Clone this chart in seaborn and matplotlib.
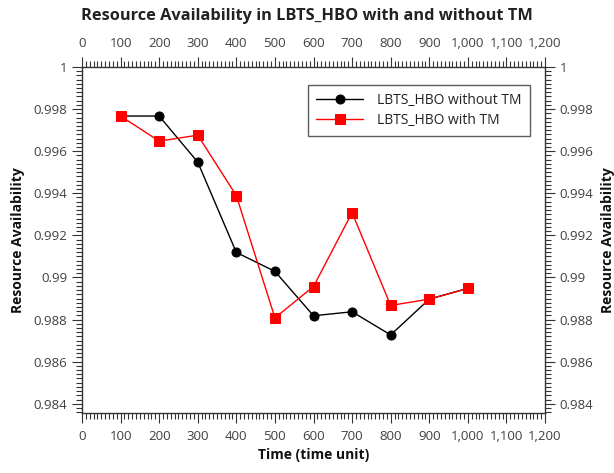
import matplotlib
matplotlib.use("Agg")
import matplotlib.pyplot as plt
import seaborn as sns
import pandas as pd
from matplotlib.ticker import MultipleLocator, FuncFormatter

time_units = [100, 200, 300, 400, 500, 600, 700, 800, 900, 1000]
without_tm = [0.99767, 0.99767, 0.99548, 0.99119, 0.99029, 0.98818, 0.98837, 0.98727, 0.98897, 0.98948]
with_tm = [0.99767, 0.99648, 0.99676, 0.99389, 0.98808, 0.98957, 0.99308, 0.98867, 0.98897, 0.98948]
series_names = ["LBTS_HBO without TM", "LBTS_HBO with TM"]

sns.set_theme(style="white")
plt.rcParams['font.family'] = ['Open Sans', 'DejaVu Sans']

fig = plt.figure(figsize=(6.14, 4.73), dpi=100)
ax = fig.add_axes([82/614, 1-413/473, (545-82)/614, (413-67)/473])

df1 = pd.DataFrame({"x": time_units, "y": without_tm})
df2 = pd.DataFrame({"x": time_units, "y": with_tm})
sns.lineplot(data=df1, x="x", y="y", ax=ax, color="black", marker="o", markersize=6.5,
             markeredgecolor="black", linewidth=1, label=series_names[0])
sns.lineplot(data=df2, x="x", y="y", ax=ax, color="#ff0000", marker="s", markersize=6.5,
             markeredgecolor="#ff0000", linewidth=1, label=series_names[1])

ax.set_xlim(0, 1200)
ax.set_ylim(0.98356, 1.0)
ax.xaxis.set_major_locator(MultipleLocator(100))
ax.xaxis.set_minor_locator(MultipleLocator(10))
ax.yaxis.set_major_locator(MultipleLocator(0.002))
ax.yaxis.set_minor_locator(MultipleLocator(0.0002))
ax.xaxis.set_major_formatter(FuncFormatter(lambda v, p: f"{int(round(v)):,}"))
ax.yaxis.set_major_formatter(FuncFormatter(lambda v, p: f"{round(v, 4):g}"))

ax.tick_params(which="both", direction="out", top=True, right=True, bottom=True, left=True,
               labeltop=True, labelright=True, color="#333333", width=0.8)
ax.tick_params(which="major", length=7.5, labelsize=9.5, labelcolor="#404040", pad=3)
ax.tick_params(which="minor", length=4)
ax.tick_params(axis="x", which="major", pad=5)

for s in ax.spines.values():
    s.set_color("#333333")
    s.set_linewidth(1)

ax.set_xlabel("Time (time unit)", fontsize=10, fontweight="bold", color="#111111", labelpad=3)
ax.set_ylabel("Resource Availability", fontsize=10, fontweight="bold", color="#111111", labelpad=6)
fig.text(608/614, 1-240/473, "Resource Availability", rotation=90, ha="center", va="center",
         fontsize=10, fontweight="bold", color="#111111")
fig.suptitle("Resource Availability in LBTS_HBO with and without TM", x=0.5, y=1-16/473,
             va="center", fontsize=11.8, fontweight="bold", color="#222222")

leg = ax.legend(loc="upper right", bbox_to_anchor=(537/614, 1-78/473), bbox_transform=fig.transFigure,
                fontsize=10, frameon=True, fancybox=False, handlelength=3.4, borderpad=0.6,
                labelspacing=0.35, handletextpad=1.0)
leg.get_frame().set_edgecolor("#333333")
leg.get_frame().set_linewidth(1)
for t in leg.get_texts():
    t.set_color("#222222")

fig.savefig("out.png", dpi=100)
